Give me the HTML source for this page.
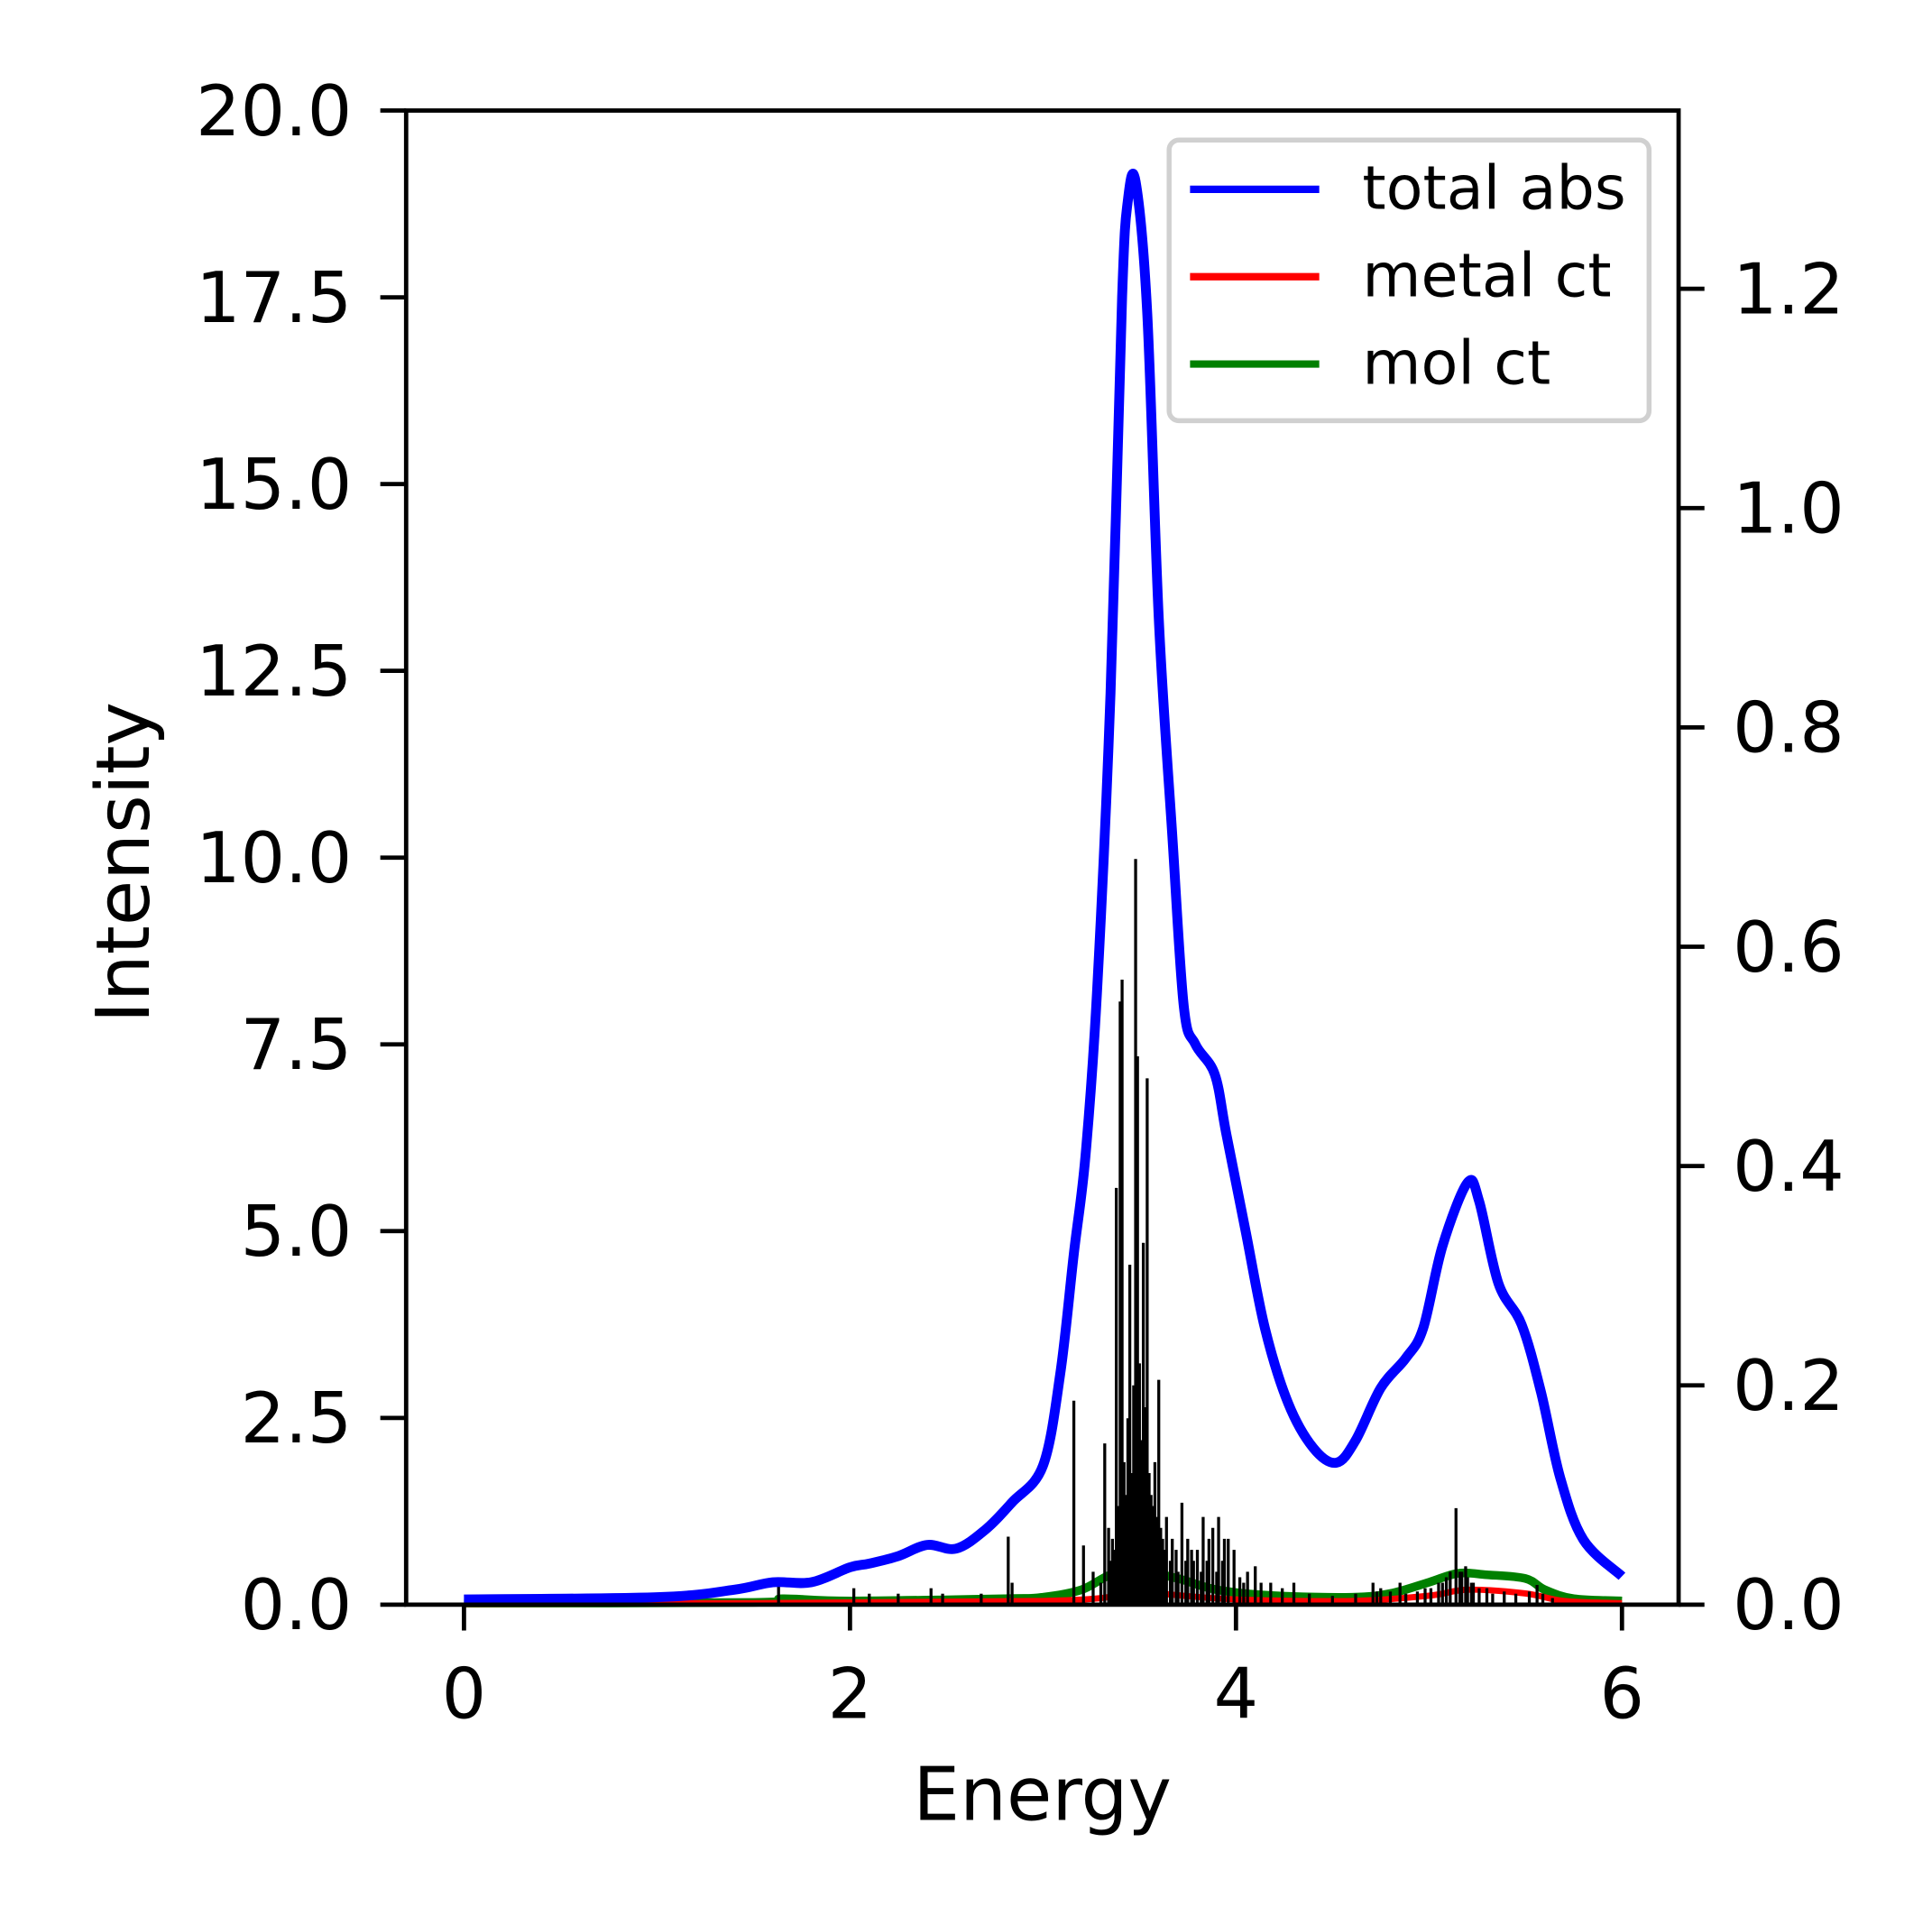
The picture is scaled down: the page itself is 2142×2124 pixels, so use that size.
<!DOCTYPE html>
<html><head><meta charset="utf-8"><style>
html,body{margin:0;padding:0;background:#fff}
svg{display:block}
text{font-family:"DejaVu Sans","Liberation Sans",sans-serif;fill:#000}
</style></head><body>
<svg id="chart" width="2142" height="2124" viewBox="0 0 1550 1537" preserveAspectRatio="none" xmlns="http://www.w3.org/2000/svg">
<g transform="translate(2,0.8) scale(0.9873)">
<g id="plot"></g>
<rect x="328" y="89" width="1034" height="1214" fill="none" stroke="#000" stroke-width="3.5"/>
<g id="axes"></g>
<text x="845" y="1478" font-size="60" text-anchor="middle">Energy</text>
<text transform="translate(119,700) rotate(-90)" font-size="60" text-anchor="middle">Intensity</text>
<g>
<rect x="948" y="113" width="390" height="228" rx="8" fill="#fff" fill-opacity="0.8" stroke="#d0d0d0" stroke-width="4"/>
<line x1="965" y1="153" x2="1070" y2="153" stroke="#0000ff" stroke-width="6"/>
<text x="1105" y="169" font-size="49">total abs</text>
<line x1="965" y1="224" x2="1070" y2="224" stroke="#ff0000" stroke-width="6"/>
<text x="1105" y="240" font-size="49">metal ct</text>
<line x1="965" y1="295" x2="1070" y2="295" stroke="#008000" stroke-width="6"/>
<text x="1105" y="311" font-size="49">mol ct</text>
</g>
</g>
</svg>
<script>
const totalE=[0,1.0,1.4,1.6,1.8,2.0,2.1,2.25,2.4,2.55,2.7,2.84,3.0,3.09,3.16,3.22,3.28,3.35,3.41,3.44,3.48,3.54,3.60,3.67,3.73,3.79,3.89,3.95,4.05,4.15,4.27,4.40,4.52,4.62,4.75,4.88,4.97,5.07,5.20,5.26,5.36,5.48,5.58,5.68,5.80,6.0];
const totalI=[0.07,0.1,0.2,0.3,0.3,0.5,0.55,0.65,0.8,0.75,1.0,1.37,1.86,3.1,4.7,6.0,8.2,12.2,17.5,18.8,19.05,17.3,13.2,10.3,8.0,7.5,7.1,6.3,5.0,3.7,2.7,2.1,1.9,2.2,2.9,3.3,3.7,4.8,5.65,5.4,4.3,3.75,2.85,1.7,0.87,0.38];
const molE=[0,1.5,1.65,2.0,2.8,3.0,3.2,3.35,3.5,3.7,3.9,4.2,4.6,4.8,5.0,5.15,5.3,5.5,5.6,5.75,6.0];
const molI=[0.02,0.03,0.08,0.05,0.08,0.1,0.2,0.4,0.45,0.35,0.2,0.12,0.1,0.15,0.3,0.42,0.4,0.35,0.2,0.08,0.05];
const metalE=[0,3.0,3.4,3.6,4.0,4.6,5.0,5.2,5.5,5.7,6.0];
const metalI=[0.01,0.05,0.2,0.15,0.07,0.05,0.12,0.2,0.15,0.05,0.02];
const stickE=[1.63,2.02,2.1,2.25,2.42,2.48,2.68,2.82,2.84,3.16,3.21,3.26,3.30,3.32,3.34,3.35,3.36,3.37,3.38,3.39,3.40,3.41,3.42,3.43,3.44,3.45,3.46,3.47,3.48,3.49,3.50,3.51,3.52,3.53,3.54,3.55,3.56,3.57,3.58,3.59,3.60,3.61,3.62,3.63,3.64,3.66,3.67,3.69,3.70,3.72,3.74,3.75,3.77,3.78,3.80,3.82,3.83,3.85,3.86,3.88,3.90,3.91,3.93,3.94,3.96,3.99,4.02,4.04,4.06,4.10,4.13,4.18,4.24,4.30,4.38,4.50,4.62,4.71,4.73,4.75,4.80,4.85,4.88,4.94,4.98,5.01,5.05,5.07,5.09,5.11,5.14,5.16,5.17,5.19,5.20,5.22,5.23,5.26,5.30,5.33,5.39,5.45,5.52,5.56,5.59,5.64];
const stickV=[0.02,0.015,0.01,0.01,0.015,0.01,0.01,0.062,0.02,0.186,0.054,0.03,0.02,0.147,0.07,0.04,0.06,0.05,0.38,0.09,0.55,0.57,0.13,0.1,0.17,0.31,0.12,0.2,0.68,0.5,0.22,0.15,0.33,0.18,0.48,0.12,0.1,0.09,0.13,0.08,0.205,0.07,0.06,0.05,0.08,0.04,0.06,0.05,0.03,0.093,0.04,0.06,0.05,0.04,0.05,0.03,0.08,0.04,0.06,0.07,0.03,0.08,0.04,0.06,0.06,0.05,0.025,0.02,0.03,0.035,0.02,0.02,0.015,0.02,0.01,0.008,0.01,0.02,0.012,0.015,0.012,0.02,0.01,0.012,0.015,0.015,0.02,0.02,0.025,0.03,0.088,0.03,0.03,0.035,0.025,0.02,0.02,0.015,0.015,0.01,0.012,0.01,0.012,0.018,0.01,0.006];
const xTicks=[0,2,4,6];
const yTicks=[0,2.5,5,7.5,10,12.5,15,17.5,20];
const yTickLabels=["0.0","2.5","5.0","7.5","10.0","12.5","15.0","17.5","20.0"];
const y2Ticks=[0,0.2,0.4,0.6,0.8,1.0,1.2];
const y2TickLabels=["0.0","0.2","0.4","0.6","0.8","1.0","1.2"];

const X=e=>375+e*156.83;
const Y=v=>1303-v*60.7;
const Y2=v=>1303-v*891;
const NS="http://www.w3.org/2000/svg";
const plot=document.getElementById('plot'), axes=document.getElementById('axes');
function mk(tag,attrs,parent){const el=document.createElementNS(NS,tag);for(const k in attrs)el.setAttribute(k,attrs[k]);parent.appendChild(el);return el;}
function smooth(xs,ys){const p=xs.map((x,i)=>[X(x),Y(ys[i])]);let d=`M${p[0][0]},${p[0][1]}`;
for(let i=0;i<p.length-1;i++){const p0=p[Math.max(0,i-1)],p1=p[i],p2=p[i+1],p3=p[Math.min(p.length-1,i+2)];
const c1=[p1[0]+(p2[0]-p0[0])/6,p1[1]+(p2[1]-p0[1])/6],c2=[p2[0]-(p3[0]-p1[0])/6,p2[1]-(p3[1]-p1[1])/6];
d+=` C${c1[0]},${c1[1]} ${c2[0]},${c2[1]} ${p2[0]},${p2[1]}`;}return d;}

const g=mk('path',{d:smooth(molE,molI),fill:'none',stroke:'#008000','stroke-width':7},plot);


const r=mk('path',{d:smooth(metalE,metalI),fill:'none',stroke:'#ff0000','stroke-width':5},plot);


stickE.forEach((e,i)=>{const s=mk('line',{x1:X(e),x2:X(e),y1:1303,y2:Y2(stickV[i]),stroke:'#000','stroke-width':2.4},plot);

});
const b=mk('path',{d:smooth(totalE,totalI),fill:'none',stroke:'#0000ff','stroke-width':8,'stroke-linejoin':'round'},plot);



xTicks.forEach(t=>{const l=mk('line',{x1:X(t),x2:X(t),y1:1303,y2:1324,stroke:'#000','stroke-width':3.5},axes);


const tx=mk('text',{x:X(t),y:1395,'font-size':57,'text-anchor':'middle'},axes);tx.textContent=t;

});
yTicks.forEach((t,i)=>{const l=mk('line',{x1:307,x2:328,y1:Y(t),y2:Y(t),stroke:'#000','stroke-width':3.5},axes);


const tx=mk('text',{x:284,y:Y(t)+20,'font-size':57,'text-anchor':'end'},axes);tx.textContent=yTickLabels[i];

});
y2Ticks.forEach((t,i)=>{const l=mk('line',{x1:1362,x2:1383,y1:Y2(t),y2:Y2(t),stroke:'#000','stroke-width':3.5},axes);


const tx=mk('text',{x:1406,y:Y2(t)+20,'font-size':57},axes);tx.textContent=y2TickLabels[i];

});
</script>
</body></html>
